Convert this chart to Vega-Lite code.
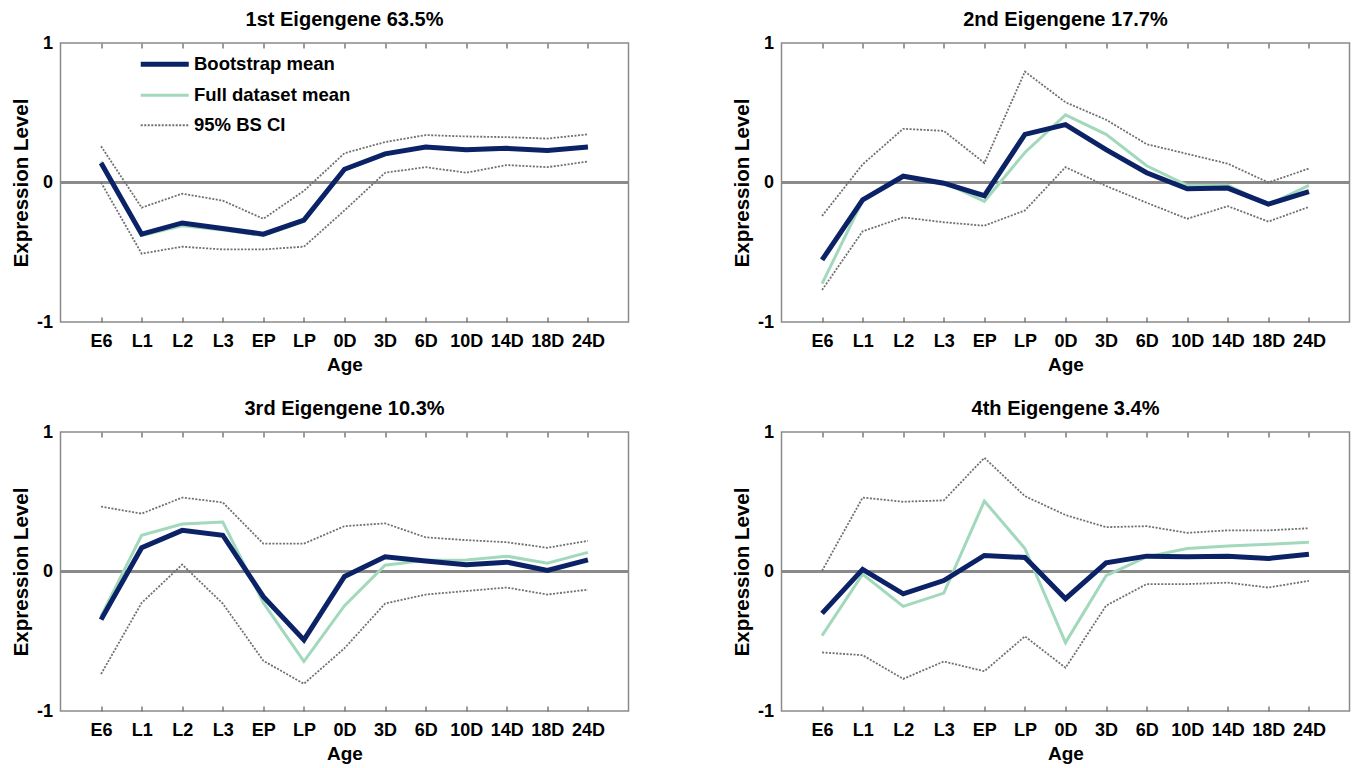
{
  "$schema": "https://vega.github.io/schema/vega-lite/v6.json",
  "padding": {"left": 10.5, "top": 9, "right": 0, "bottom": 0},
  "background": "white",
  "data": {"values": [
    {"p":1,"a":"E6","boot":0.14,"full":0.15,"up":0.26,"lo":0.0},
    {"p":1,"a":"L1","boot":-0.37,"full":-0.38,"up":-0.18,"lo":-0.51},
    {"p":1,"a":"L2","boot":-0.29,"full":-0.31,"up":-0.08,"lo":-0.46},
    {"p":1,"a":"L3","boot":-0.33,"full":-0.34,"up":-0.13,"lo":-0.48},
    {"p":1,"a":"EP","boot":-0.37,"full":-0.38,"up":-0.26,"lo":-0.48},
    {"p":1,"a":"LP","boot":-0.27,"full":-0.28,"up":-0.06,"lo":-0.46},
    {"p":1,"a":"0D","boot":0.095,"full":0.09,"up":0.21,"lo":-0.2},
    {"p":1,"a":"3D","boot":0.205,"full":0.2,"up":0.29,"lo":0.07},
    {"p":1,"a":"6D","boot":0.255,"full":0.26,"up":0.34,"lo":0.11},
    {"p":1,"a":"10D","boot":0.235,"full":0.24,"up":0.33,"lo":0.07},
    {"p":1,"a":"14D","boot":0.245,"full":0.25,"up":0.325,"lo":0.125},
    {"p":1,"a":"18D","boot":0.23,"full":0.225,"up":0.315,"lo":0.11},
    {"p":1,"a":"24D","boot":0.255,"full":0.26,"up":0.345,"lo":0.15},
    {"p":2,"a":"E6","boot":-0.555,"full":-0.725,"up":-0.24,"lo":-0.77},
    {"p":2,"a":"L1","boot":-0.125,"full":-0.13,"up":0.13,"lo":-0.35},
    {"p":2,"a":"L2","boot":0.045,"full":0.04,"up":0.385,"lo":-0.25},
    {"p":2,"a":"L3","boot":-0.005,"full":0.0,"up":0.37,"lo":-0.285},
    {"p":2,"a":"EP","boot":-0.095,"full":-0.135,"up":0.14,"lo":-0.31},
    {"p":2,"a":"LP","boot":0.345,"full":0.215,"up":0.795,"lo":-0.2},
    {"p":2,"a":"0D","boot":0.415,"full":0.485,"up":0.575,"lo":0.11},
    {"p":2,"a":"3D","boot":0.235,"full":0.345,"up":0.45,"lo":-0.025},
    {"p":2,"a":"6D","boot":0.07,"full":0.12,"up":0.275,"lo":-0.145},
    {"p":2,"a":"10D","boot":-0.045,"full":-0.02,"up":0.205,"lo":-0.26},
    {"p":2,"a":"14D","boot":-0.04,"full":-0.02,"up":0.135,"lo":-0.17},
    {"p":2,"a":"18D","boot":-0.155,"full":-0.16,"up":0.0,"lo":-0.28},
    {"p":2,"a":"24D","boot":-0.065,"full":-0.02,"up":0.1,"lo":-0.175},
    {"p":3,"a":"E6","boot":-0.345,"full":-0.32,"up":0.465,"lo":-0.735},
    {"p":3,"a":"L1","boot":0.17,"full":0.26,"up":0.415,"lo":-0.225},
    {"p":3,"a":"L2","boot":0.295,"full":0.34,"up":0.53,"lo":0.05},
    {"p":3,"a":"L3","boot":0.26,"full":0.355,"up":0.495,"lo":-0.23},
    {"p":3,"a":"EP","boot":-0.18,"full":-0.225,"up":0.2,"lo":-0.64},
    {"p":3,"a":"LP","boot":-0.49,"full":-0.645,"up":0.2,"lo":-0.805},
    {"p":3,"a":"0D","boot":-0.035,"full":-0.245,"up":0.325,"lo":-0.55},
    {"p":3,"a":"3D","boot":0.105,"full":0.045,"up":0.345,"lo":-0.23},
    {"p":3,"a":"6D","boot":0.075,"full":0.08,"up":0.245,"lo":-0.165},
    {"p":3,"a":"10D","boot":0.048,"full":0.083,"up":0.225,"lo":-0.14},
    {"p":3,"a":"14D","boot":0.067,"full":0.11,"up":0.21,"lo":-0.115},
    {"p":3,"a":"18D","boot":0.007,"full":0.06,"up":0.17,"lo":-0.165},
    {"p":3,"a":"24D","boot":0.083,"full":0.137,"up":0.22,"lo":-0.13},
    {"p":4,"a":"E6","boot":-0.3,"full":-0.46,"up":0.005,"lo":-0.58},
    {"p":4,"a":"L1","boot":0.015,"full":-0.02,"up":0.53,"lo":-0.6},
    {"p":4,"a":"L2","boot":-0.16,"full":-0.25,"up":0.5,"lo":-0.77},
    {"p":4,"a":"L3","boot":-0.065,"full":-0.155,"up":0.51,"lo":-0.645},
    {"p":4,"a":"EP","boot":0.115,"full":0.505,"up":0.815,"lo":-0.715},
    {"p":4,"a":"LP","boot":0.1,"full":0.165,"up":0.54,"lo":-0.465},
    {"p":4,"a":"0D","boot":-0.195,"full":-0.51,"up":0.405,"lo":-0.69},
    {"p":4,"a":"3D","boot":0.062,"full":-0.03,"up":0.318,"lo":-0.245},
    {"p":4,"a":"6D","boot":0.11,"full":0.105,"up":0.325,"lo":-0.09},
    {"p":4,"a":"10D","boot":0.105,"full":0.165,"up":0.277,"lo":-0.09},
    {"p":4,"a":"14D","boot":0.11,"full":0.182,"up":0.295,"lo":-0.08},
    {"p":4,"a":"18D","boot":0.093,"full":0.195,"up":0.295,"lo":-0.115},
    {"p":4,"a":"24D","boot":0.123,"full":0.21,"up":0.31,"lo":-0.067}
  ]},
  "columns": 2,
  "bounds": "flush",
  "spacing": {"row": 110, "column": 153},
  "resolve": {"scale": {"color": "independent"}},
  "concat": [
    {
      "title": "1st Eigengene 63.5%",
      "width": 568, "height": 279,
      "resolve": {"axis": {"x": "independent"}},
      "layer": [
        {"data": {"values": [{}]}, "mark": {"type": "rule", "color": "#8a8a8a", "strokeWidth": 3},
         "encoding": {"y": {"datum": 0, "type": "quantitative", "scale": {"domain": [-1, 1], "nice": false}}}},
        {"transform": [{"filter": "datum.p == 1"}, {"fold": ["up", "lo"], "as": ["s", "v"]}],
         "mark": {"type": "line", "strokeWidth": 1.8, "strokeDash": [2, 1.5]},
         "encoding": {
           "x": {"field": "a", "type": "ordinal", "sort": ["E6","L1","L2","L3","EP","LP","0D","3D","6D","10D","14D","18D","24D"], "title": "Age", "axis": {"labelAngle": 0, "ticks": true, "offset": -5, "tickSize": 5, "labelPadding": 10, "titlePadding": 5}},
           "y": {"field": "v", "type": "quantitative", "scale": {"domain": [-1, 1], "nice": false}, "axis": {"values": [-1, 0, 1], "title": "Expression Level", "ticks": false, "labelPadding": 8, "titlePadding": 5, "labelFlush": false, "labelExpr": "'' + datum.value"}},
           "color": {"field": "s", "type": "nominal",
             "scale": {"domain": ["boot", "full", "up", "lo"], "range": ["#0b2266", "#a2d9bc", "#707070", "#707070"]},
             "legend": {"orient": "none", "legendX": 95, "legendY": 12, "title": null, "values": ["boot", "full", "up"],
               "labelExpr": "datum.value == 'boot' ? 'Bootstrap mean' : datum.value == 'full' ? 'Full dataset mean' : '95% BS CI'",
               "symbolType": "stroke", "symbolSize": 2304, "rowPadding": 11, "labelOffset": 20, "padding": 0,
               "labelFontSize": 18.5, "labelFontWeight": "bold", "labelColor": "#000000", "labelFont": "Liberation Sans",
               "encode": {"symbols": {"update": {
                 "strokeWidth": {"signal": "datum.value == 'boot' ? 5 : datum.value == 'full' ? 3 : 1.8"},
                 "strokeDash": {"signal": "datum.value == 'up' ? [2, 1.5] : []"}}}}}}
         }},
        {"transform": [{"filter": "datum.p == 1"}], "mark": {"type": "line", "color": "#a2d9bc", "strokeWidth": 3},
         "encoding": {
           "x": {"field": "a", "type": "ordinal", "sort": ["E6","L1","L2","L3","EP","LP","0D","3D","6D","10D","14D","18D","24D"], "axis": {"orient": "top", "labels": false, "title": null, "ticks": true, "offset": -5, "tickSize": 5}},
           "y": {"field": "full", "type": "quantitative", "scale": {"domain": [-1, 1], "nice": false}}}},
        {"transform": [{"filter": "datum.p == 1"}], "mark": {"type": "line", "color": "#0b2266", "strokeWidth": 5},
         "encoding": {
           "x": {"field": "a", "type": "ordinal", "sort": ["E6","L1","L2","L3","EP","LP","0D","3D","6D","10D","14D","18D","24D"], "axis": null},
           "y": {"field": "boot", "type": "quantitative", "scale": {"domain": [-1, 1], "nice": false}}}}
      ]
    },
    {
      "title": "2nd Eigengene 17.7%",
      "width": 568, "height": 279,
      "resolve": {"axis": {"x": "independent"}},
      "layer": [
        {"data": {"values": [{}]}, "mark": {"type": "rule", "color": "#8a8a8a", "strokeWidth": 3},
         "encoding": {"y": {"datum": 0, "type": "quantitative", "scale": {"domain": [-1, 1], "nice": false}}}},
        {"transform": [{"filter": "datum.p == 2"}, {"fold": ["up", "lo"], "as": ["s", "v"]}],
         "mark": {"type": "line", "strokeWidth": 1.8, "strokeDash": [2, 1.5], "color": "#707070"},
         "encoding": {
           "x": {"field": "a", "type": "ordinal", "sort": ["E6","L1","L2","L3","EP","LP","0D","3D","6D","10D","14D","18D","24D"], "title": "Age", "axis": {"labelAngle": 0, "ticks": true, "offset": -5, "tickSize": 5, "labelPadding": 10, "titlePadding": 5}},
           "y": {"field": "v", "type": "quantitative", "scale": {"domain": [-1, 1], "nice": false}, "axis": {"values": [-1, 0, 1], "title": "Expression Level", "ticks": false, "labelPadding": 8, "titlePadding": 5, "labelFlush": false, "labelExpr": "'' + datum.value"}},
           "detail": {"field": "s"}
         }},
        {"transform": [{"filter": "datum.p == 2"}], "mark": {"type": "line", "color": "#a2d9bc", "strokeWidth": 3},
         "encoding": {
           "x": {"field": "a", "type": "ordinal", "sort": ["E6","L1","L2","L3","EP","LP","0D","3D","6D","10D","14D","18D","24D"], "axis": {"orient": "top", "labels": false, "title": null, "ticks": true, "offset": -5, "tickSize": 5}},
           "y": {"field": "full", "type": "quantitative", "scale": {"domain": [-1, 1], "nice": false}}}},
        {"transform": [{"filter": "datum.p == 2"}], "mark": {"type": "line", "color": "#0b2266", "strokeWidth": 5},
         "encoding": {
           "x": {"field": "a", "type": "ordinal", "sort": ["E6","L1","L2","L3","EP","LP","0D","3D","6D","10D","14D","18D","24D"], "axis": null},
           "y": {"field": "boot", "type": "quantitative", "scale": {"domain": [-1, 1], "nice": false}}}}
      ]
    },
    {
      "title": "3rd Eigengene 10.3%",
      "width": 568, "height": 279,
      "resolve": {"axis": {"x": "independent"}},
      "layer": [
        {"data": {"values": [{}]}, "mark": {"type": "rule", "color": "#8a8a8a", "strokeWidth": 3},
         "encoding": {"y": {"datum": 0, "type": "quantitative", "scale": {"domain": [-1, 1], "nice": false}}}},
        {"transform": [{"filter": "datum.p == 3"}, {"fold": ["up", "lo"], "as": ["s", "v"]}],
         "mark": {"type": "line", "strokeWidth": 1.8, "strokeDash": [2, 1.5], "color": "#707070"},
         "encoding": {
           "x": {"field": "a", "type": "ordinal", "sort": ["E6","L1","L2","L3","EP","LP","0D","3D","6D","10D","14D","18D","24D"], "title": "Age", "axis": {"labelAngle": 0, "ticks": true, "offset": -5, "tickSize": 5, "labelPadding": 10, "titlePadding": 5}},
           "y": {"field": "v", "type": "quantitative", "scale": {"domain": [-1, 1], "nice": false}, "axis": {"values": [-1, 0, 1], "title": "Expression Level", "ticks": false, "labelPadding": 8, "titlePadding": 5, "labelFlush": false, "labelExpr": "'' + datum.value"}},
           "detail": {"field": "s"}
         }},
        {"transform": [{"filter": "datum.p == 3"}], "mark": {"type": "line", "color": "#a2d9bc", "strokeWidth": 3},
         "encoding": {
           "x": {"field": "a", "type": "ordinal", "sort": ["E6","L1","L2","L3","EP","LP","0D","3D","6D","10D","14D","18D","24D"], "axis": {"orient": "top", "labels": false, "title": null, "ticks": true, "offset": -5, "tickSize": 5}},
           "y": {"field": "full", "type": "quantitative", "scale": {"domain": [-1, 1], "nice": false}}}},
        {"transform": [{"filter": "datum.p == 3"}], "mark": {"type": "line", "color": "#0b2266", "strokeWidth": 5},
         "encoding": {
           "x": {"field": "a", "type": "ordinal", "sort": ["E6","L1","L2","L3","EP","LP","0D","3D","6D","10D","14D","18D","24D"], "axis": null},
           "y": {"field": "boot", "type": "quantitative", "scale": {"domain": [-1, 1], "nice": false}}}}
      ]
    },
    {
      "title": "4th Eigengene 3.4%",
      "width": 568, "height": 279,
      "resolve": {"axis": {"x": "independent"}},
      "layer": [
        {"data": {"values": [{}]}, "mark": {"type": "rule", "color": "#8a8a8a", "strokeWidth": 3},
         "encoding": {"y": {"datum": 0, "type": "quantitative", "scale": {"domain": [-1, 1], "nice": false}}}},
        {"transform": [{"filter": "datum.p == 4"}, {"fold": ["up", "lo"], "as": ["s", "v"]}],
         "mark": {"type": "line", "strokeWidth": 1.8, "strokeDash": [2, 1.5], "color": "#707070"},
         "encoding": {
           "x": {"field": "a", "type": "ordinal", "sort": ["E6","L1","L2","L3","EP","LP","0D","3D","6D","10D","14D","18D","24D"], "title": "Age", "axis": {"labelAngle": 0, "ticks": true, "offset": -5, "tickSize": 5, "labelPadding": 10, "titlePadding": 5}},
           "y": {"field": "v", "type": "quantitative", "scale": {"domain": [-1, 1], "nice": false}, "axis": {"values": [-1, 0, 1], "title": "Expression Level", "ticks": false, "labelPadding": 8, "titlePadding": 5, "labelFlush": false, "labelExpr": "'' + datum.value"}},
           "detail": {"field": "s"}
         }},
        {"transform": [{"filter": "datum.p == 4"}], "mark": {"type": "line", "color": "#a2d9bc", "strokeWidth": 3},
         "encoding": {
           "x": {"field": "a", "type": "ordinal", "sort": ["E6","L1","L2","L3","EP","LP","0D","3D","6D","10D","14D","18D","24D"], "axis": {"orient": "top", "labels": false, "title": null, "ticks": true, "offset": -5, "tickSize": 5}},
           "y": {"field": "full", "type": "quantitative", "scale": {"domain": [-1, 1], "nice": false}}}},
        {"transform": [{"filter": "datum.p == 4"}], "mark": {"type": "line", "color": "#0b2266", "strokeWidth": 5},
         "encoding": {
           "x": {"field": "a", "type": "ordinal", "sort": ["E6","L1","L2","L3","EP","LP","0D","3D","6D","10D","14D","18D","24D"], "axis": null},
           "y": {"field": "boot", "type": "quantitative", "scale": {"domain": [-1, 1], "nice": false}}}}
      ]
    }
  ],
  "config": {
    "font": "Liberation Sans",
    "view": {"stroke": "#8a8a8a", "strokeWidth": 1.5},
    "scale": {"pointPadding": 1},
    "axis": {"domain": false, "grid": false, "labelFont": "Liberation Sans", "labelFontSize": 18, "labelFontWeight": "bold", "labelColor": "#000000",
             "titleFont": "Liberation Sans", "titleFontSize": 19, "titleFontWeight": "bold", "titleColor": "#000000",
             "tickColor": "#7a7a7a", "tickWidth": 1.5},
    "axisY": {"titleFontSize": 20.5},
    "title": {"font": "Liberation Sans", "fontSize": 20, "fontWeight": "bold", "color": "#000000", "offset": 4}
  }
}
